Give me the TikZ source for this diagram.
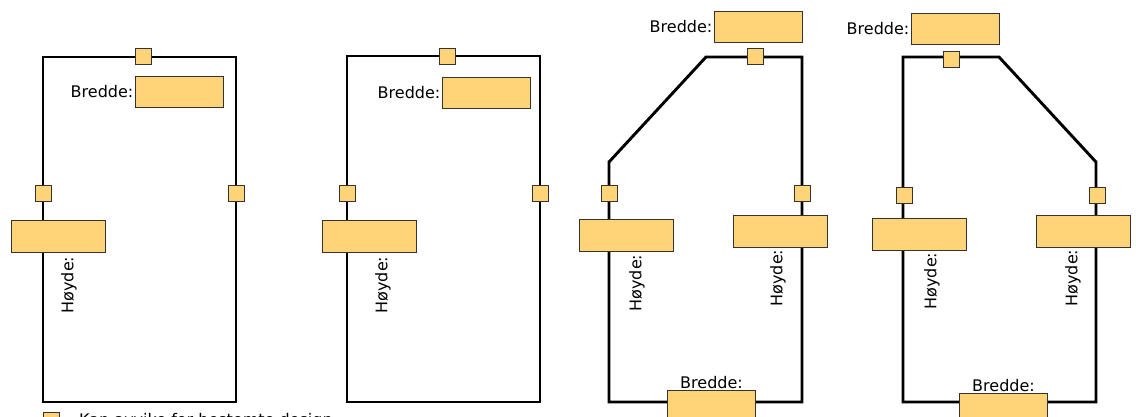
\documentclass[tikz,border=0pt]{standalone}
\usepackage{fontspec}
\setmainfont{DejaVu Sans}
\usetikzlibrary{positioning}
\definecolor{fieldfill}{RGB}{255,212,121}
\definecolor{fieldline}{RGB}{51,51,51}

\begin{document}
\begin{tikzpicture}[x=1pt,y=-1pt,
        frame/.style={line width=2.9pt,line join=miter},
        port/.style={draw=fieldline,fill=fieldfill,line width=1pt,
          minimum size=16pt,inner sep=0pt},
        field/.style={draw=fieldline,fill=fieldfill,line width=1pt,
          minimum width=94pt,minimum height=32pt,inner sep=0pt},
        shortfield/.style={field,minimum width=88pt,minimum height=31pt},
        caption/.style={font=\fontsize{16}{19}\selectfont,inner sep=1pt},
        height/.style={caption,rotate=90},
        ]
      \useasboundingbox (0,0) rectangle (1136,416);
      % first window: plain frame
      \draw[frame] (43,57) rectangle (236,402);
      \node[port] (top1) at (143,56) {};
      \node[port] (left1) at (43,193) {};
      \node[port] (right1) at (236,193) {};
      \node[field] (hfield1) at (58,236) {};
      \node[shortfield] (bfield1) at (179,92) {};
      \node[caption,left=0pt of bfield1] (blabel1) {Bredde:};
      \node[height] (hlabel1) at (69,285) {Høyde:};
      % second window
      \draw[frame] (347,56) rectangle (540,402);
      \node[port] (top2) at (447,56) {};
      \node[port] (left2) at (347,193) {};
      \node[port] (right2) at (540,193) {};
      \node[field] (hfield2) at (369,236) {};
      \node[shortfield] (bfield2) at (486,93) {};
      \node[caption,left=0pt of bfield2] (blabel2) {Bredde:};
      \node[height] (hlabel2) at (383,285) {Høyde:};
      % third window: slanted to the left
      \draw[frame] (609,162) -- (706,57) -- (802,57) -- (802,402)
        -- (609,402) -- cycle;
      \node[port] (top3) at (755,56) {};
      \node[port] (left3) at (609,193) {};
      \node[port] (right3) at (802,193) {};
      \node[field] (hfield3l) at (626,235) {};
      \node[field] (hfield3r) at (780,231) {};
      \node[shortfield] (bfield3t) at (758,27) {};
      \node[caption,left=0pt of bfield3t] (blabel3t) {Bredde:};
      \node[shortfield] (bfield3b) at (711.5,405.5) {};
      \node[caption,above=0pt of bfield3b] (blabel3b) {Bredde:};
      \node[height] (hlabel3l) at (637,283) {Høyde:};
      \node[height] (hlabel3r) at (778,278) {Høyde:};
      % fourth window: slanted to the right
      \draw[frame] (903,57) -- (999,57) -- (1096,162) -- (1096,402)
        -- (903,402) -- cycle;
      \node[port] (top4) at (951,59) {};
      \node[port] (left4) at (904,195) {};
      \node[port] (right4) at (1097,195) {};
      \node[field] (hfield4l) at (919,234) {};
      \node[field] (hfield4r) at (1083,231) {};
      \node[shortfield] (bfield4t) at (955,29) {};
      \node[caption,left=0pt of bfield4t] (blabel4t) {Bredde:};
      \node[shortfield] (bfield4b) at (1003.5,408.5) {};
      \node[caption,above=0pt of bfield4b] (blabel4b) {Bredde:};
      \node[height] (hlabel4l) at (932,281) {Høyde:};
      \node[height] (hlabel4r) at (1073,278) {Høyde:};
      % legend
      \node[port] (legendport) at (51,420) {};
      \node[caption,anchor=west] (legendtext) at (78,421)
        {Kan avvike for bestemte design};
\end{tikzpicture}
\end{document}
